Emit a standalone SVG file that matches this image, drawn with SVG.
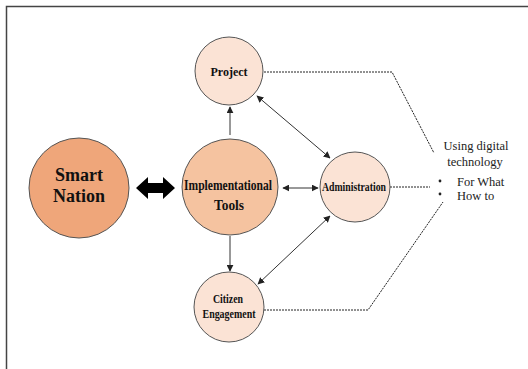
<svg xmlns="http://www.w3.org/2000/svg" width="528" height="369" viewBox="0 0 528 369">
<defs>
<marker id="ah" viewBox="0 0 10 10" refX="9" refY="5" markerWidth="7" markerHeight="7" orient="auto-start-reverse" markerUnits="userSpaceOnUse">
<path d="M0,0 L10,5 L0,10 z" fill="#222"/>
</marker>
<style>
.node{stroke:#555;stroke-width:1}
.lbl{font-family:"Liberation Serif","Times New Roman","DejaVu Serif",serif;font-weight:bold;fill:#111}
.txt{font-family:"Liberation Serif","Times New Roman","DejaVu Serif",serif;fill:#222;font-size:12.5px}
.arr{stroke:#333;stroke-width:1;fill:none}
.dash{stroke:#222;stroke-width:1;fill:none;stroke-dasharray:2,1}
</style>
</defs>
<rect width="528" height="369" fill="#fff"/>
<path d="M6.5,369 V6.5 H528" fill="none" stroke="#444" stroke-width="1.5"/>
<g id="connectors">
<line class="arr" x1="230" y1="135" x2="230" y2="107" marker-end="url(#ah)"/>
<line class="arr" x1="230" y1="236" x2="230" y2="271" marker-end="url(#ah)"/>
<line class="arr" x1="283" y1="188" x2="318" y2="188" marker-start="url(#ah)" marker-end="url(#ah)"/>
<line class="arr" x1="257" y1="96" x2="330" y2="158" marker-start="url(#ah)" marker-end="url(#ah)"/>
<line class="arr" x1="330" y1="216" x2="258" y2="284" marker-start="url(#ah)" marker-end="url(#ah)"/>
<polygon points="136,188 148,177 148,183 163,183 163,177 175,188 163,199 163,193 148,193 148,199" fill="#000"/>
<polyline class="dash" points="264,72 392,72 434,153"/>
<line class="dash" x1="390" y1="187" x2="430" y2="187"/>
<polyline class="dash" points="264,310 368,310 443,202"/>
</g>
<g id="smart-nation">
<circle class="node" cx="79" cy="188" r="50" fill="#EFA67A"/>
<text class="lbl" x="79" y="181" font-size="18" text-anchor="middle">Smart</text>
<text class="lbl" x="79" y="202" font-size="18" text-anchor="middle">Nation</text>
</g>
<g id="implementational-tools">
<circle class="node" cx="230" cy="187" r="48" fill="#F5C3A0"/>
<text class="lbl" x="228" y="190" font-size="14" text-anchor="middle" textLength="88" lengthAdjust="spacingAndGlyphs">Implementational</text>
<text class="lbl" x="229" y="210" font-size="14" text-anchor="middle" textLength="30" lengthAdjust="spacingAndGlyphs">Tools</text>
</g>
<g id="project">
<circle class="node" cx="229" cy="71" r="34" fill="#FBE3D5"/>
<text class="lbl" x="229" y="76" font-size="12" text-anchor="middle">Project</text>
</g>
<g id="administration">
<circle class="node" cx="355" cy="187" r="35" fill="#FBE3D5"/>
<text class="lbl" x="354" y="191" font-size="12" text-anchor="middle" textLength="64" lengthAdjust="spacingAndGlyphs">Administration</text>
</g>
<g id="citizen-engagement">
<circle class="node" cx="229" cy="307" r="35" fill="#FBE3D5"/>
<text class="lbl" x="228" y="303" font-size="12" text-anchor="middle" textLength="30" lengthAdjust="spacingAndGlyphs">Citizen</text>
<text class="lbl" x="229" y="318" font-size="12" text-anchor="middle" textLength="53" lengthAdjust="spacingAndGlyphs">Engagement</text>
</g>
<g id="notes">
<text class="txt" x="476" y="150" text-anchor="middle">Using digital</text>
<text class="txt" x="475" y="166" text-anchor="middle">technology</text>
<circle cx="440" cy="181" r="1.4" fill="#222"/>
<circle cx="440" cy="194" r="1.4" fill="#222"/>
<text class="txt" x="457" y="186">For What</text>
<text class="txt" x="457" y="200">How to</text>
</g>
</svg>
